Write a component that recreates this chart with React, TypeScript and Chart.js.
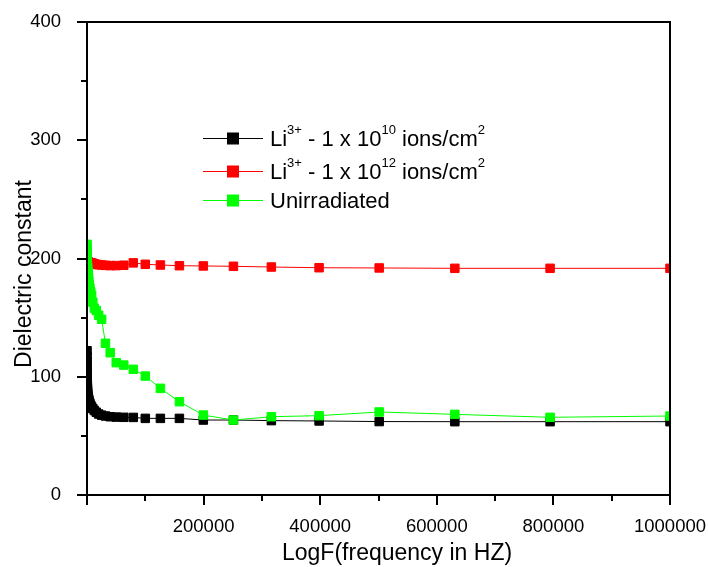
import React, { useEffect, useRef } from 'react';
import { Chart, registerables } from 'chart.js';

Chart.register(...registerables);

const FONT = "'Liberation Sans', Arial, Helvetica, sans-serif";

// Frequencies (Hz)
const freqs = [
  100, 126, 158, 200, 251, 316, 398, 501, 631, 794,
  1000, 1259, 1585, 1995, 2512, 3162, 3981, 5012, 6310, 7943,
  10000, 12589, 15849, 19953, 25119, 31623, 39811, 50119, 63096, 79433,
  100000, 125893, 158489, 199526, 251189, 316228, 398107, 501187, 630957, 794328,
  1000000,
];

// Li3+ - 1 x 10^10 ions/cm2
const li10Values = [
  122, 117, 113, 109, 105, 101, 98, 95, 92, 90,
  88, 86, 84.5, 83, 82, 80.5, 79, 77.5, 76, 74.5,
  73, 71.5, 70, 68.5, 67.5, 66.8, 66.2, 65.9, 65.7, 65.6,
  64.8, 64.8, 64.8, 63.4, 63.4, 62.9, 62.6, 62.1, 62, 62,
  62,
];

// Li3+ - 1 x 10^12 ions/cm2
const li12Values = [
  199, 198.8, 198.6, 198.4, 198.2, 198, 197.9, 197.8, 197.7, 197.6,
  197.5, 197.3, 197.1, 196.9, 196.7, 196.5, 196.4, 196.3, 196.2, 196.1,
  196, 195.5, 195, 194.8, 194.5, 194.2, 194, 194, 194.3, 196.3,
  195.1, 194.5, 193.9, 193.7, 193.4, 192.8, 192.2, 192, 191.7, 191.7,
  191.7,
];

// Unirradiated
const unirrValues = [
  212, 208, 204, 201, 199, 197, 196, 195, 194, 193,
  192, 190, 188, 186, 184, 181, 178, 175, 172, 169,
  163, 158, 156, 152, 148.6, 128.3, 120.3, 111.9, 109.9, 106.3,
  100.6, 90.2, 78.9, 67.6, 63.4, 66.2, 67.1, 70.2, 68.2, 65.7,
  66.8,
];

const seriesNames = ['Li3+ - 1 x 10^10 ions/cm2', 'Li3+ - 1 x 10^12 ions/cm2', 'Unirradiated'];
const seriesColors = ['#000000', '#ff0000', '#00ff00'];

const xTitle = 'LogF(frequency in HZ)';
const yTitle = 'Dielectric constant';

// rich legend labels (with superscripts)
const legendRich = [
  [{ t: 'Li' }, { t: '3+', sup: true }, { t: ' - 1 x 10' }, { t: '10', sup: true }, { t: ' ions/cm' }, { t: '2', sup: true }],
  [{ t: 'Li' }, { t: '3+', sup: true }, { t: ' - 1 x 10' }, { t: '12', sup: true }, { t: ' ions/cm' }, { t: '2', sup: true }],
  [{ t: 'Unirradiated' }],
];

const decorPlugin = {
  id: 'decor',
  afterDraw(chart: any) {
    const { ctx, chartArea: a, scales } = chart;
    const xs = scales.x;
    const ys = scales.y;
    ctx.save();
    ctx.strokeStyle = '#000';
    ctx.lineWidth = 2;
    ctx.strokeRect(a.left, a.top, a.right - a.left, a.bottom - a.top);

    // tick marks
    ctx.beginPath();
    for (let v = 0; v <= 1000000; v += 100000) {
      const px = Math.round(xs.getPixelForValue(v));
      const len = v % 200000 === 0 ? 10 : 6;
      ctx.moveTo(px, a.bottom);
      ctx.lineTo(px, a.bottom + len);
    }
    for (let v = 0; v <= 400; v += 50) {
      const py = Math.round(ys.getPixelForValue(v));
      const len = v % 100 === 0 ? 10 : 6;
      ctx.moveTo(a.left, py);
      ctx.lineTo(a.left - len, py);
    }
    ctx.stroke();

    // axis titles
    ctx.fillStyle = '#000';
    ctx.font = `23px ${FONT}`;
    ctx.textAlign = 'left';
    ctx.textBaseline = 'alphabetic';
    ctx.fillText(xTitle, 282, 560);

    ctx.save();
    ctx.translate(31, 274);
    ctx.rotate(-Math.PI / 2);
    ctx.textAlign = 'center';
    ctx.fillText(yTitle, 0, 0);
    ctx.restore();

    // legend
    const rowsY = [138, 171, 200];
    const lineX0 = 203;
    const lineX1 = 263;
    const textX = 270;
    for (let i = 0; i < 3; i++) {
      const y = rowsY[i];
      const col = seriesColors[i];
      ctx.strokeStyle = col;
      ctx.lineWidth = 1;
      ctx.beginPath();
      ctx.moveTo(lineX0, y + 0.5);
      ctx.lineTo(lineX1, y + 0.5);
      ctx.stroke();
      ctx.fillStyle = col;
      ctx.fillRect(233 - 6, y - 5.5, 12, 12);

      ctx.fillStyle = '#000';
      let x = textX;
      const base = y + 7.5;
      for (const seg of legendRich[i] as any[]) {
        if (seg.sup) {
          ctx.font = `13px ${FONT}`;
          ctx.fillText(seg.t, x, base - 12);
        } else {
          ctx.font = `22px ${FONT}`;
          ctx.fillText(seg.t, x, base);
        }
        x += ctx.measureText(seg.t).width;
      }
    }
    ctx.restore();
  },
};

function makeDataset(label: string, values: number[], color: string, order: number) {
  return {
    label,
    data: freqs.map((f, i) => ({ x: f, y: values[i] })),
    borderColor: color,
    backgroundColor: color,
    borderWidth: 1,
    pointStyle: 'rect',
    pointRadius: 6,
    pointBorderWidth: 1,
    pointBackgroundColor: color,
    pointBorderColor: color,
    tension: 0,
    order,
  };
}

export default function App() {
  const ref = useRef<HTMLCanvasElement | null>(null);
  useEffect(() => {
    if (!ref.current) return;
    const chart = new Chart(ref.current, {
      type: 'line',
      data: {
        datasets: [
          makeDataset(seriesNames[0], li10Values, seriesColors[0], 3),
          makeDataset(seriesNames[1], li12Values, seriesColors[1], 2),
          makeDataset(seriesNames[2], unirrValues, seriesColors[2], 1),
        ] as any,
      },
      options: {
        responsive: false,
        animation: false,
        layout: { padding: { left: 0, right: 38, top: 22, bottom: 0 } },
        plugins: { legend: { display: false }, tooltip: { enabled: false } },
        scales: {
          x: {
            type: 'linear',
            min: 0,
            max: 1000000,
            grid: { display: false },
            border: { display: false },
            ticks: {
              stepSize: 200000,
              autoSkip: false,
              maxRotation: 0,
              minRotation: 0,
              padding: 13,
              color: '#000',
              font: { family: FONT, size: 18.5 },
              callback: (v: any) => (Number(v) === 0 ? '' : String(v)),
            },
            afterFit: (s: any) => {
              s.height = 72;
              s.paddingLeft = 0;
              s.paddingRight = 0;
              s.paddingTop = 0;
              s.paddingBottom = 0;
            },
          },
          y: {
            type: 'linear',
            min: 0,
            max: 400,
            grid: { display: false },
            border: { display: false },
            ticks: {
              stepSize: 100,
              padding: 18,
              color: '#000',
              font: { family: FONT, size: 18.5 },
              callback: (v: any) => String(v),
            },
            afterFit: (s: any) => {
              s.width = 87;
              s.paddingLeft = 0;
              s.paddingRight = 0;
              s.paddingTop = 0;
              s.paddingBottom = 0;
            },
          },
        },
      } as any,
      plugins: [decorPlugin],
    });
    return () => chart.destroy();
  }, []);
  return (
    <div style={{ position: 'fixed', left: 0, top: 0, width: 708, height: 567, background: '#fff' }}>
      <canvas ref={ref} width={708} height={567} style={{ display: 'block' }} />
    </div>
  );
}
